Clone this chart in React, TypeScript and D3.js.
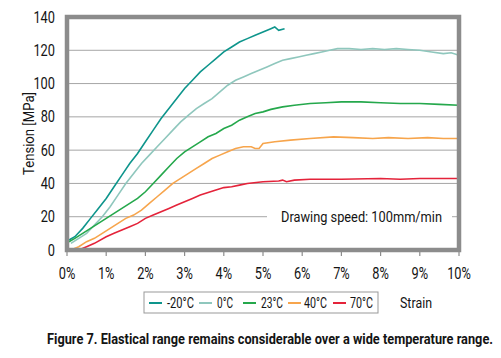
import React from "react";
import * as d3 from "d3";

const seriesNames = ["-20°C", "0°C", "23°C", "40°C", "70°C"];
const seriesColors = ["#0e958c", "#8fc7bd", "#25a84c", "#f7a54c", "#e4233a"];

const strainM20 = [0.05, 0.2, 0.4, 0.6, 0.8, 1.0, 1.2, 1.4, 1.6, 1.8, 2.0, 2.2, 2.4, 2.6, 2.8, 3.0, 3.2, 3.4, 3.6, 3.8, 4.0, 4.2, 4.4, 4.6, 4.8, 5.0, 5.2, 5.3, 5.4, 5.55];
const tensionM20 = [6, 8, 13, 19, 25, 31, 38, 45, 52, 58, 65, 72, 79, 85, 91, 97, 102, 107, 111, 115, 119, 122, 125, 127, 129, 131, 133, 134, 132, 133];

const strain0 = [0.1, 0.3, 0.5, 0.7, 0.9, 1.1, 1.3, 1.5, 1.7, 1.9, 2.1, 2.3, 2.5, 2.7, 2.9, 3.1, 3.3, 3.5, 3.7, 3.9, 4.1, 4.3, 4.5, 4.7, 4.9, 5.1, 5.3, 5.5, 5.7, 5.9, 6.1, 6.3, 6.5, 6.7, 6.9, 7.2, 7.5, 7.8, 8.1, 8.4, 8.7, 9.0, 9.3, 9.6, 9.8, 10];
const tension0 = [4, 7, 10, 15, 20, 26, 33, 40, 46, 52, 57, 62, 67, 72, 77, 81, 85, 88, 91, 95, 99, 102, 104, 106, 108, 110, 112, 114, 115, 116, 117, 118, 119, 120, 121, 121, 120.5, 121, 120.5, 121, 120.5, 120, 119, 118, 118.5, 117];

const strain23 = [0.05, 0.2, 0.4, 0.6, 0.8, 1.0, 1.2, 1.4, 1.6, 1.8, 2.0, 2.2, 2.4, 2.6, 2.8, 3.0, 3.2, 3.4, 3.6, 3.8, 4.0, 4.2, 4.4, 4.6, 4.8, 5.0, 5.2, 5.5, 5.8, 6.2, 6.6, 7.0, 7.5, 8.0, 8.5, 9.0, 9.5, 10];
const tension23 = [5, 7, 10, 13, 16, 19, 22, 25, 28, 31, 35, 40, 45, 50, 55, 59, 62, 65, 68, 70, 73, 75, 78, 80, 82, 83, 84.5, 86, 87, 88, 88.5, 89, 89, 88.5, 88, 88, 87.5, 87];

const strain40 = [0.1, 0.3, 0.5, 0.7, 0.9, 1.1, 1.3, 1.5, 1.7, 1.9, 2.1, 2.3, 2.5, 2.7, 2.9, 3.1, 3.3, 3.5, 3.7, 3.9, 4.1, 4.3, 4.5, 4.7, 4.8, 4.9, 5.0, 5.3, 5.7, 6.2, 6.8, 7.3, 7.8, 8.2, 8.7, 9.2, 9.6, 10];
const tension40 = [0, 2, 5, 7, 10, 13, 16, 19, 21, 24, 28, 32, 36, 40, 43, 46, 49, 52, 55, 57, 59, 61, 62, 62, 61, 61, 64, 65, 66, 67, 68, 67.5, 67, 67.5, 67, 67.5, 67, 67];

const strain70 = [0.3, 0.5, 0.7, 1.0, 1.2, 1.4, 1.6, 1.8, 2.0, 2.2, 2.4, 2.6, 2.8, 3.0, 3.2, 3.4, 3.6, 3.8, 4.0, 4.2, 4.4, 4.6, 5.0, 5.4, 5.5, 5.6, 5.8, 6.2, 7.0, 8.0, 8.5, 9.0, 9.5, 10];
const tension70 = [0, 2, 4, 8, 10, 12, 14, 16, 19, 21, 23, 25, 27, 29, 31, 33, 34.5, 36, 37.5, 38, 39, 40, 41, 41.5, 42, 41, 42, 42.5, 42.5, 43, 42.5, 43, 43, 43];

const xTicks = [0, 1, 2, 3, 4, 5, 6, 7, 8, 9, 10];
const yTicks = [0, 20, 40, 60, 80, 100, 120, 140];

const xLabel = "Strain";
const yLabel = "Tension [MPa]";
const note = "Drawing speed: 100mm/min";
const caption = "Figure 7. Elastical range remains considerable over a wide temperature range.";

const FONT = "Roboto, 'Liberation Sans', sans-serif";
const INK = "#141414";

type CTProps = {
  x: number; y: number; sx: number; text: string; size: number;
  anchor?: "start" | "middle" | "end"; width?: number; bold?: boolean; rotate?: number;
};

function CText({ x, y, sx, text, size, anchor = "start", width, bold, rotate }: CTProps) {
  const tr = `translate(${x},${y})${rotate ? ` rotate(${rotate})` : ""} scale(${sx},1)`;
  return (
    <g transform={tr}>
      <text x={0} y={0} textAnchor={anchor} fontFamily={FONT} fontSize={size} fontWeight={bold ? "bold" : "normal"} fill={INK}
        {...(width ? { textLength: width / sx, lengthAdjust: "spacingAndGlyphs" } : {})}>{text}</text>
    </g>
  );
}

export default function App() {
  const W = 501, H = 358;
  const left = 67, right = 459, top = 17, bottom = 250;
  const x = d3.scaleLinear().domain([0, 10]).range([left, right]);
  const y = d3.scaleLinear().domain([0, 140]).range([bottom, top]);
  const line = d3.line<[number, number]>().x(d => x(d[0])).y(d => y(d[1]));

  const series = [
    [strainM20, tensionM20],
    [strain0, tension0],
    [strain23, tension23],
    [strain40, tension40],
    [strain70, tension70],
  ];

  const legendLines = [149, 199, 243, 288, 333];
  const legendTexts = [167, 217, 261, 304, 350];
  const legendWidths = [27, 16, 22, 23, 23];

  return (
    <svg width={W} height={H} style={{ position: "absolute", left: 0, top: 0, background: "#fff" }}>
      <rect x={0} y={0} width={W} height={H} fill="#fff" />
      {yTicks.filter(v => v > 0 && v < 140).map(v => (
        <line key={v} x1={left} x2={right} y1={y(v)} y2={y(v)} stroke="#a6a6a6" strokeWidth={1} />
      ))}
      <rect x={267} y={y(20) - 8} width={185} height={16} fill="#fff" />
      <CText x={281} y={y(20) + 5} sx={0.85} size={15} text={note} width={161} />
      {series.map((s, i) => (
        <path key={i} d={line(s[0].map((v, j) => [v, s[1][j]]) as [number, number][]) || ""} fill="none" stroke={seriesColors[i]} strokeWidth={1.6} />
      ))}
      {xTicks.map(v => (
        <line key={v} x1={x(v)} x2={x(v)} y1={bottom} y2={bottom + 6} stroke="#8c8c8c" strokeWidth={1.2} />
      ))}
      <rect x={left} y={top} width={right - left} height={bottom - top} fill="none" stroke="#8c8c8c" strokeWidth={4.5} />
      {yTicks.map(v => (
        <CText key={v} x={55} y={y(v) + 5.5} sx={0.8} size={16} anchor="end" text={String(v)} />
      ))}
      {xTicks.map(v => (
        <CText key={v} x={x(v)} y={279} sx={0.8} size={16} anchor="middle" text={v + "%"} />
      ))}
      <CText x={34} y={133.5} rotate={-90} sx={0.85} size={15} anchor="middle" text={yLabel} width={83} />
      <rect x={144} y={292} width={234} height={21} fill="#fff" stroke="#999" strokeWidth={1} />
      {seriesNames.map((n, i) => (
        <g key={n}>
          <line x1={legendLines[i]} x2={legendLines[i] + 13} y1={303} y2={303} stroke={seriesColors[i]} strokeWidth={2} />
          <CText x={legendTexts[i]} y={308} sx={0.8} size={15} text={n} width={legendWidths[i]} />
        </g>
      ))}
      <CText x={400} y={308} sx={0.85} size={15} text={xLabel} width={32} />
      <CText x={47} y={344} sx={0.78} size={14} bold text={caption} width={446} />
    </svg>
  );
}
